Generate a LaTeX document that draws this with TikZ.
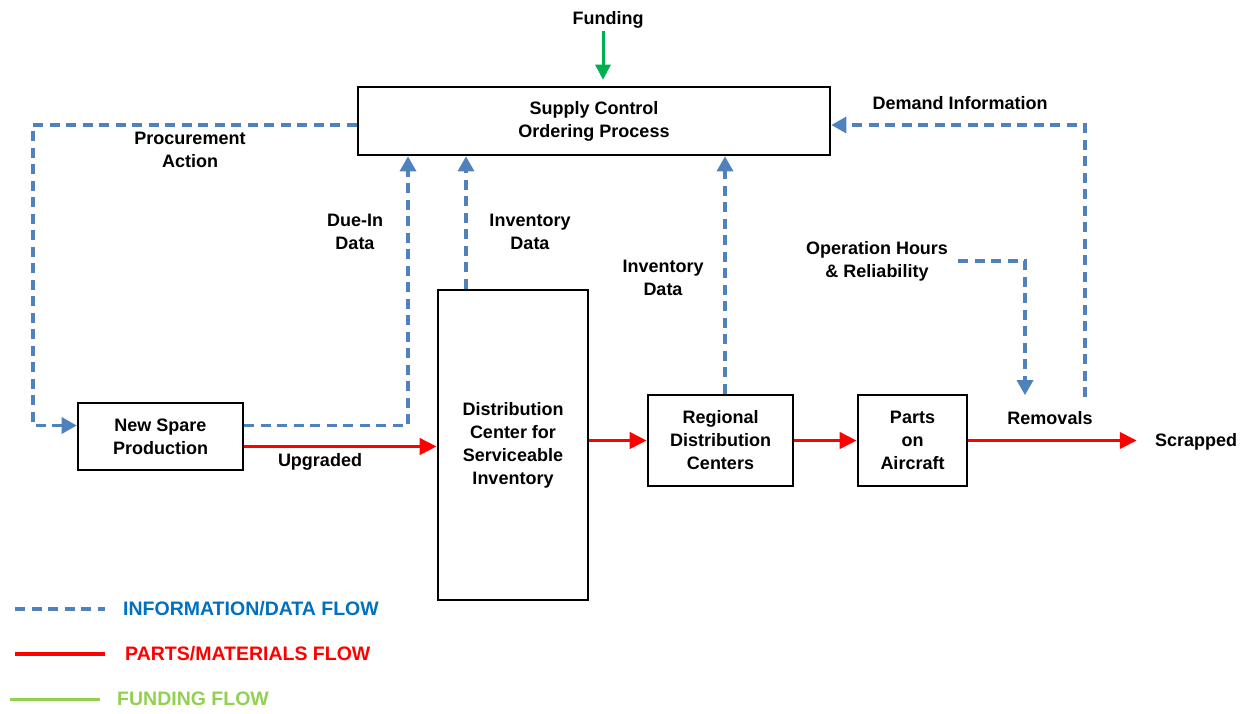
\documentclass[tikz,border=0pt]{standalone}
\usepackage{fontspec}
\setmainfont{Liberation Sans}
\usetikzlibrary{arrows.meta,calc}
\definecolor{infoblue}{RGB}{79,129,189}
\definecolor{legblue}{RGB}{0,112,192}
\definecolor{partred}{RGB}{255,0,0}
\definecolor{fundgreen}{RGB}{0,176,80}
\definecolor{leggreen}{RGB}{146,208,80}
\tikzset{
  box/.style={draw=black, line width=2.6pt, fill=white, align=center, inner sep=0pt},
  lbl/.style={align=center, inner sep=2pt, font=\fontsize{18}{23}\selectfont\bfseries},
  info/.style={draw=infoblue, line width=3.3pt, dash pattern=on 10pt off 6.5pt},
  infoarrow/.style={info, -{Triangle[length=15pt,width=16pt]}},
  part/.style={draw=partred, line width=3.8pt},
  partarrow/.style={part, -{Triangle[length=17pt,width=16pt]}},
  fundarrow/.style={draw=fundgreen, line width=3pt, -{Triangle[length=15pt,width=15pt]}},
  legtext/.style={anchor=west, inner sep=0pt, font=\fontsize{19.5}{23}\selectfont\bfseries},
}
\begin{document}
\begin{tikzpicture}[x=1pt,y=-1pt]
\useasboundingbox (0,0) rectangle (1247,713);

% process boxes
\node[box, lbl, minimum width=472pt, minimum height=68pt] (sup) at (594,121) {Supply Control\\Ordering Process};
\node[box, lbl, minimum width=165pt, minimum height=67pt] (nsp) at (160.5,436.5) {New Spare\\Production};
\node[box, lbl, minimum width=150pt, minimum height=310pt] (dc) at (513,445) {Distribution\\Center for\\Serviceable\\Inventory};
\node[box, lbl, minimum width=145pt, minimum height=91pt] (rdc) at (720.5,440.5) {Regional\\Distribution\\Centers};
\node[box, lbl, minimum width=109pt, minimum height=91pt] (poa) at (912.5,440.5) {Parts\\on\\Aircraft};

% free labels
\node[lbl] (fund) at (608,20) {Funding};
\node[lbl] (scr) at (1196,442) {Scrapped};
\node[lbl] (rem) at (1050,418) {Removals};
\node[lbl] (ops) at (877,261) {Operation Hours\\\& Reliability};
\node[lbl] (proc) at (190,150) {Procurement\\Action};
\node[lbl] (duein) at (355,232) {Due-In\\Data};
\node[lbl] (inv1) at (530,232) {Inventory\\Data};
\node[lbl] (inv2) at (663,278) {Inventory\\Data};
\node[lbl] (dem) at (960,103) {Demand Information};
\node[lbl] (upg) at (320,462) {Upgraded};

% funding flow
\draw[fundarrow, shorten >=6pt] ([xshift=-5pt]fund.south) -- ([xshift=-5pt]fund.south |- sup.north);

% information / data flows
\coordinate (pcorner) at (33,125);
\draw[infoarrow] ([yshift=-4pt]sup.west) -- (pcorner) |- ([yshift=11pt]nsp.west);
\draw[infoarrow] ([yshift=11pt]nsp.east) -| ([xshift=-186pt]sup.south);
\draw[infoarrow] ([xshift=-47pt]dc.north) -- ([xshift=-47pt]dc.north |- sup.south);
\draw[infoarrow] ([xshift=4.5pt]rdc.north) -- ([xshift=4.5pt]rdc.north |- sup.south);
\draw[infoarrow] ([xshift=8pt]ops.east) -| ([xshift=-25pt,yshift=14pt]rem.north);
\draw[infoarrow] ([xshift=35pt,yshift=12pt]rem.north) |- ([yshift=-4pt]sup.east);

% parts / materials flows
\draw[partarrow] ([yshift=-10pt]nsp.east) -- ([yshift=-10pt]nsp.east -| dc.west);
\draw[partarrow] (dc.east |- rdc.west) -- (rdc.west);
\draw[partarrow] (rdc.east) -- (poa.west);
\draw[partarrow] (poa.east) -- ([xshift=-16pt]poa.east -| scr.west);

% legend
\coordinate (la) at (15,609); \coordinate (lb) at (105,609);
\coordinate (lc) at (15,654); \coordinate (ld) at (105,654);
\coordinate (le) at (10,699); \coordinate (lf) at (100,699);
\draw[info] (la) -- (lb);
\draw[part] (lc) -- (ld);
\draw[draw=leggreen, line width=3pt] (le) -- (lf);
\node[legtext, text=legblue] (lg1) at (123,609) {INFORMATION/DATA FLOW};
\node[legtext, text=partred] (lg2) at (125,654) {PARTS/MATERIALS FLOW};
\node[legtext, text=leggreen] (lg3) at (117,699) {FUNDING FLOW};
\end{tikzpicture}
\end{document}
